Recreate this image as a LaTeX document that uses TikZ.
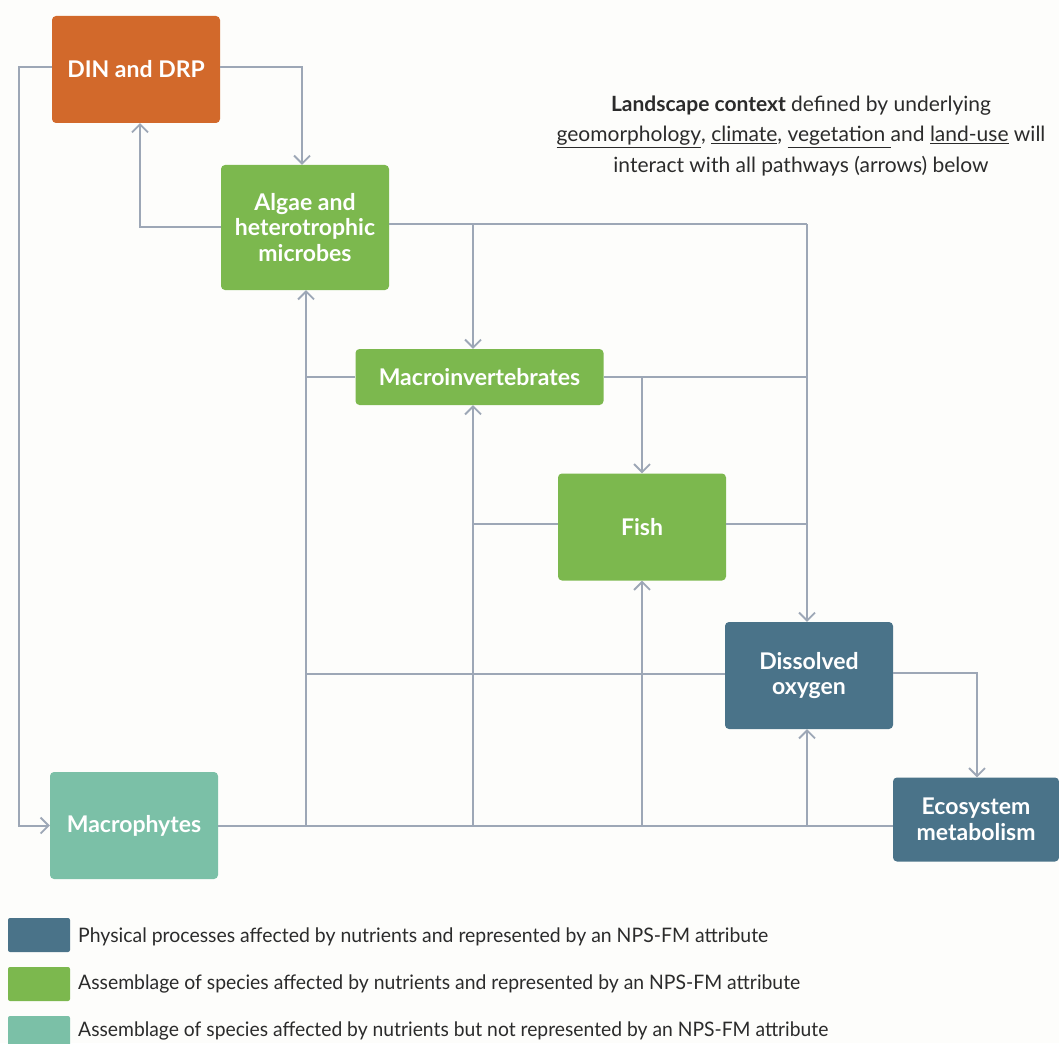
\documentclass[tikz,border=0pt]{standalone}
\usepackage{fontspec}
\setmainfont{Lato}
\usetikzlibrary{arrows.meta}
\definecolor{bgc}{HTML}{FDFDFB}
\definecolor{orng}{HTML}{D2692B}
\definecolor{grn}{HTML}{7CB84E}
\definecolor{teal}{HTML}{7BC0A7}
\definecolor{dblue}{HTML}{4A7389}
\definecolor{linec}{HTML}{9DA7B6}
\definecolor{txt}{HTML}{2B2B2B}
\newcommand{\legtext}[2]{\resizebox{#1}{\height}{#2}}
\begin{document}
\begin{tikzpicture}[x=1pt,y=-1pt,
  box/.style={rectangle, rounded corners=4pt, text=white, align=center, inner sep=0pt,
    font=\bfseries\fontsize{23}{25.5}\selectfont},
  conn/.style={draw=linec, line width=2pt, -{Straight Barb[length=8pt,width=16pt,line width=1.8pt]}},
  plain/.style={draw=linec, line width=2pt},
  swatch/.style={rectangle, rounded corners=2pt, minimum width=62pt, minimum height=34pt, inner sep=0pt},
  legend/.style={anchor=west, inner sep=0pt, text=txt, font=\fontsize{20}{22}\selectfont},
  land/.style={align=center, inner sep=0pt, text=txt, font=\fontsize{21}{30.5}\selectfont}
]
\fill[bgc] (0,0) rectangle (1059,1043);
\useasboundingbox (0,0) rectangle (1059,1043);

% boxes
\node[box, fill=orng, minimum width=168pt, minimum height=107pt] (din) at (136,69.5) {DIN and DRP};
\node[box, fill=grn, minimum width=168pt, minimum height=125pt] (alg) at (305,227.5) {Algae and\\heterotrophic\\microbes};
\node[box, fill=grn, minimum width=248pt, minimum height=56pt] (inv) at (479.5,377) {Macroinvertebrates};
\node[box, fill=grn, minimum width=168pt, minimum height=107pt] (fish) at (642,527) {Fish};
\node[box, fill=dblue, minimum width=168pt, minimum height=107pt] (do) at (809,675.5) {Dissolved\\oxygen};
\node[box, fill=dblue, minimum width=166pt, minimum height=84pt] (eco) at (976,819.5) {Ecosystem\\metabolism};
\node[box, fill=teal, minimum width=168pt, minimum height=107pt] (mac) at (134,825.5) {Macrophytes};

% landscape text
\node[land] (landtxt) at (801,136) {\textbf{Landscape context} defined by underlying\\
\underline{geomorphology}, \underline{climate}, \underline{vegetation\ }and \underline{land-use} will\\
interact with all pathways (arrows) below};

% coordinates
\coordinate (r1) at (807,224);
\coordinate (b1) at (473,224);
\coordinate (v1) at (306,826);
\coordinate (v2) at (473,826);
\coordinate (v3) at (642,826);
\coordinate (v4) at (807,826);
\coordinate (dinL) at (19,67);
\coordinate (dinR) at (302,67);
\coordinate (algL) at (140,227);

% connectors
\draw[conn] (din.west |- dinL) -- (dinL) |- (mac.west);
\draw[conn] (din.east |- dinR) -- (dinR) -- (dinR |- alg.north);
\draw[conn] (alg.west |- algL) -- (algL) -- (algL |- din.south);
\draw[plain] (alg.east |- r1) -- (r1);
\draw[conn] (r1) -- (r1 |- do.north);
\draw[conn] (b1) -- (b1 |- inv.north);
\draw[plain] (inv.east) -- (inv.east -| r1);
\draw[conn] (inv.east -| fish.north) -- (fish.north);
\draw[plain] (inv.west) -- (inv.west -| v1);
\draw[conn] (v1) -- (v1 |- alg.south);
\draw[plain] (fish.west |- 0,524) -- (v2 |- 0,524);
\draw[conn] (v2) -- (v2 |- inv.south);
\draw[plain] (fish.east |- 0,524) -- (r1 |- 0,524);
\draw[plain] (do.west |- 0,674) -- (v1 |- 0,674);
\draw[conn] (v3) -- (v3 |- fish.south);
\draw[conn] (v4) -- (v4 |- do.south);
\draw[conn] (do.east |- 0,673) -| (eco.north -| 977,0);
\draw[plain] (mac.east |- v1) -- (eco.west |- v1);

% legend
\node[swatch, fill=dblue] (s1) at (39,935) {};
\node[swatch, fill=grn] (s2) at (39,984) {};
\node[swatch, fill=teal] (s3) at (39,1033) {};
\node[legend] (l1) at (78,937) {\legtext{690pt}{Physical processes affected by nutrients and represented by an NPS-FM attribute}};
\node[legend] (l2) at (78,984) {\legtext{722pt}{Assemblage of species affected by nutrients and represented by an NPS-FM attribute}};
\node[legend] (l3) at (78,1031) {\legtext{750pt}{Assemblage of species affected by nutrients but not represented by an NPS-FM attribute}};
\end{tikzpicture}
\end{document}
